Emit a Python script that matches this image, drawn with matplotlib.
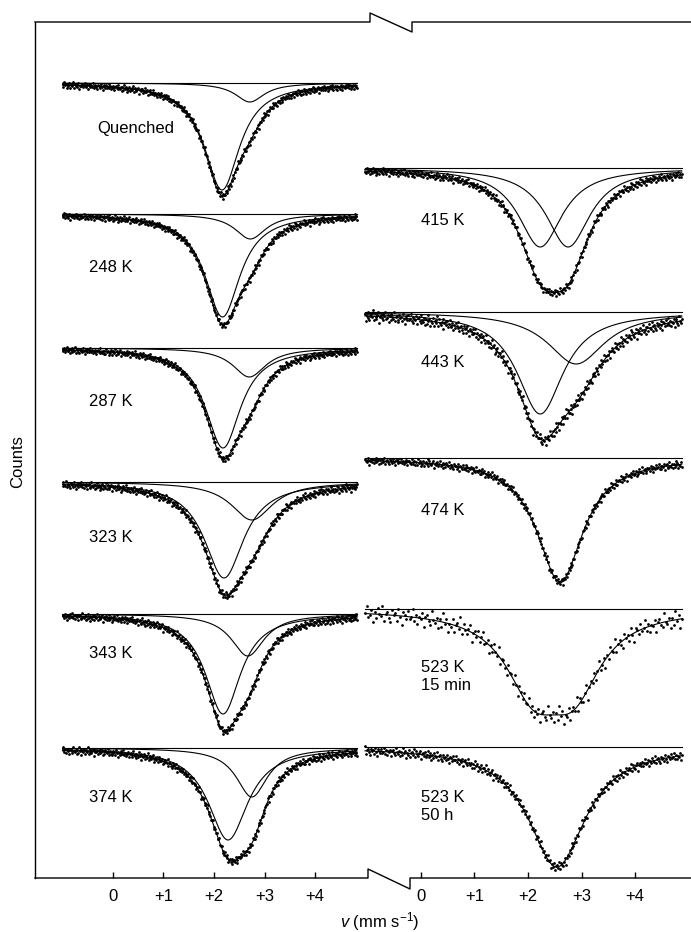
import numpy as np
import matplotlib.pyplot as plt

W, H = 691, 932
plt.rcParams['font.family'] = ['Liberation Sans', 'DejaVu Sans']
plt.rcParams['mathtext.fontset'] = 'custom'
plt.rcParams['mathtext.it'] = 'Liberation Sans:italic'
plt.rcParams['mathtext.rm'] = 'Liberation Sans'

# ---- data -----------------------------------------------------------------
# velocity window covered by the recorded channels (mm/s)
left_vrange = (-0.99, 4.83)
right_vrange = (-1.04, 4.87)

# left column: component lines (centre mm/s, FWHM mm/s, depth in counts)
left_labels = ['Quenched', '248 K', '287 K', '323 K', '343 K', '374 K']
left_comp_a = [(2.16, 0.85, 107), (2.17, 0.85, 103), (2.18, 0.85, 100),
               (2.20, 0.95, 96), (2.18, 0.85, 100), (2.28, 0.95, 92)]
left_comp_b = [(2.71, 0.70, 19), (2.72, 0.75, 25), (2.70, 0.80, 29),
               (2.75, 1.00, 38), (2.67, 0.80, 42), (2.75, 0.75, 49)]
left_scatter = [3.5, 3.5, 3.5, 4.0, 4.0, 4.0]
left_channels = [360, 360, 360, 360, 360, 360]

# right column
right_labels = ['415 K', '443 K', '474 K', '523 K\n15 min', '523 K\n50 h']
right_comp_a = [(2.23, 1.00, 79), (2.23, 1.05, 102), (2.60, 1.05, 124),
                (2.10, 1.25, 72), (2.54, 1.30, 120)]
right_comp_b = [(2.75, 1.00, 79), (2.90, 1.30, 52), None,
                (2.85, 1.25, 72), None]
right_show_comps = [True, True, False, False, False]
right_scatter = [4.0, 6.0, 4.0, 10.0, 5.0]
right_channels = [360, 360, 360, 200, 320]

resid = [0.2, -0.5, 0.9, -0.1, 0.4, -0.9, 0.0, -0.3, 0.6, -0.7, 0.1, 0.3,
         -0.2, 1.0, -0.6, 0.5, -0.1, -0.4, 0.2, 0.7, -1.0, 0.0, 0.3, -0.2,
         0.5, -0.5, 0.1, 0.8, -0.3, -0.1, 0.4, -0.8, 0.2, -0.4, 0.6, 0.0,
         -0.2, 0.9, -0.6, 0.1, 0.3, -0.3, -0.7, 0.5, 0.0, 0.2, -0.5, 0.7,
         -0.1, -0.9, 0.4, 0.1, -0.3, 0.6, -0.2, 0.0, 0.8, -0.4, 0.3, -0.6,
         0.1, -0.1, 0.5, -0.8, 0.2, 0.4, -0.2, -0.5, 0.9, 0.0, -0.3, 0.3,
         -0.7]

tick_vals = [0, 1, 2, 3, 4]
tick_text = ['0', '+1', '+2', '+3', '+4']

# ---- layout (pixels of the 691x932 picture) --------------------------------
left_base = [83, 214, 348, 482, 614, 748]
right_base = [168, 312, 458, 609, 747]
left_lab_dy = [46, 54, 54, 55, 40, 49]
right_lab_dy = [45, 43, 45, 51, 43]
# panel x extents and the pixel position of v = 0 and 1 mm/s
left_px = (35, 370, 112.7, 50.6)
right_px = (360, 691, 420.7, 53.6)

LW = 0.8


def lorentz(v, comp):
    c, fw, d = comp
    return d / (1 + ((v - c) / (fw / 2)) ** 2)


def panel_xlim(px):
    x0, x1, zero, scale = px
    return ((x0 - zero) / scale, (x1 - zero) / scale)


def add_spectrum(fig, px, vrange, base, comps, show_comps, scatter, nch, k):
    x0, x1 = px[0], px[1]
    ax = fig.add_axes([x0 / W, 1 - (base + 140) / H, (x1 - x0) / W, 155 / H])
    ax.set_xlim(panel_xlim(px))
    ax.set_ylim(-140, 15)
    ax.axis('off')

    v = np.linspace(vrange[0], vrange[1], 600)
    total = sum(lorentz(v, c) for c in comps)
    ax.plot(vrange, [0, 0], color='black', lw=LW)
    if show_comps:
        for c in comps:
            ax.plot(v, -lorentz(v, c), color='black', lw=LW)
    ax.plot(v, -total, color='black', lw=LW)

    vc = np.linspace(vrange[0], vrange[1], nch)
    fit = sum(lorentz(vc, c) for c in comps)
    r = np.array([resid[(i + 11 * k) % len(resid)] for i in range(nch)])
    ax.plot(vc, -fit + r * scatter, 'o', color='black', ms=2.0, mew=0)
    return ax


fig = plt.figure(figsize=(W / 100, H / 100), dpi=100)

# frame with broken axes
fr = fig.add_axes([0, 0, 1, 1])
fr.set_xlim(0, W)
fr.set_ylim(H, 0)
fr.axis('off')
fr.plot([35, 35], [878, 22], color='black', lw=1.0)
fr.plot([35, 370, 370, 412, 412, 691], [22, 22, 13, 32, 22, 22],
        color='black', lw=1.0)
fr.plot([35, 368, 368, 410, 410, 691], [878, 878, 869, 889, 878, 878],
        color='black', lw=1.0)

for k, lab in enumerate(left_labels):
    add_spectrum(fig, left_px, left_vrange, left_base[k],
                 [left_comp_a[k], left_comp_b[k]], True, left_scatter[k],
                 left_channels[k], k)
    fr.text(97 if k == 0 else 89, left_base[k] + left_lab_dy[k], lab,
            fontsize=12, va='center', ha='left')

for k, lab in enumerate(right_labels):
    comps = [c for c in (right_comp_a[k], right_comp_b[k]) if c is not None]
    add_spectrum(fig, right_px, right_vrange, right_base[k], comps,
                 right_show_comps[k], right_scatter[k], right_channels[k],
                 k + 6)
    fr.text(421, right_base[k] + right_lab_dy[k], lab, fontsize=12,
            va='top', ha='left', linespacing=1.25)

# velocity ticks on the bottom axis
for px in (left_px, right_px):
    x0, x1 = px[0], px[1]
    tax = fig.add_axes([x0 / W, 1 - 878 / H, (x1 - x0) / W, 0.01])
    tax.set_xlim(panel_xlim(px))
    tax.set_yticks([])
    for s in tax.spines.values():
        s.set_visible(False)
    tax.patch.set_visible(False)
    tax.set_xticks(tick_vals)
    tax.set_xticklabels(tick_text)
    tax.tick_params(axis='x', direction='in', length=4, width=1.0,
                    pad=8, labelsize=12)

fr.text(18, 462, 'Counts', rotation=90, fontsize=12, ha='center', va='center')
fr.text(380, 922, r'$v$ (mm s$^{-1}$)', fontsize=12, ha='center', va='center')

fig.savefig('out.png', dpi=100)
